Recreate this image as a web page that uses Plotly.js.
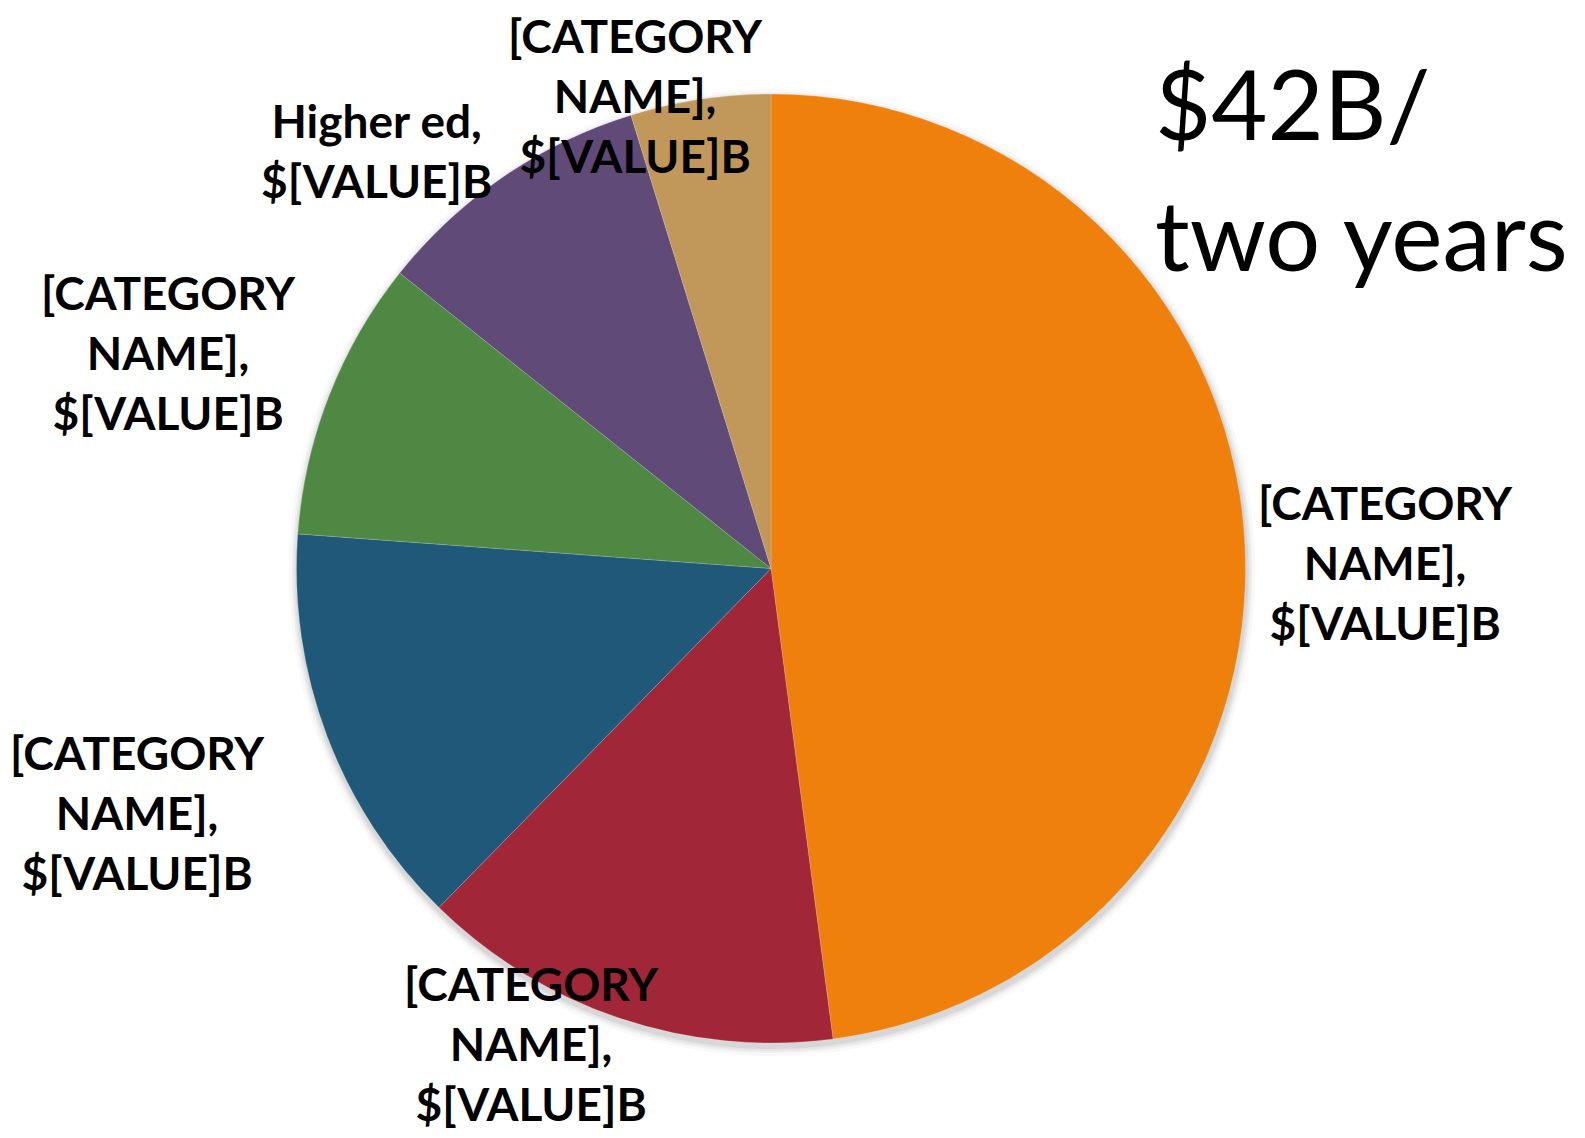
<!DOCTYPE html>
<html>
<head>
<meta charset="utf-8">
<script src="https://cdn.plot.ly/plotly-3.0.1.min.js"></script>
<style>
  html, body { margin: 0; padding: 0; background: #ffffff; }
  #chart { width: 1585px; height: 1138px; }
</style>
</head>
<body>
<div id="chart"></div>
<script>
// ---- data ----
const categories = ["[CATEGORY NAME]", "[CATEGORY NAME]", "[CATEGORY NAME]", "[CATEGORY NAME]", "Higher ed", "[CATEGORY NAME]"];
const values = [20.1, 6.05, 5.8, 4.0, 4.0, 2.0];
const labelTexts = [
  "[CATEGORY<br>NAME],<br>$[VALUE]B",
  "[CATEGORY<br>NAME],<br>$[VALUE]B",
  "[CATEGORY<br>NAME],<br>$[VALUE]B",
  "[CATEGORY<br>NAME],<br>$[VALUE]B",
  "Higher ed,<br>$[VALUE]B",
  "[CATEGORY<br>NAME],<br>$[VALUE]B"
];
const titleLines = ["$42B/", "two years"];

// ---- style ----
const colors = ["#EF800C", "#A02638", "#1F5878", "#4E8843", "#604A78", "#C1985A"];
const W = 1585, H = 1138;
const cx = 771, cy = 568.5, R = 474.5;
const labelPos = [[1385, 562], [531, 1043], [137, 812], [168, 352], [376, 150], [635, 95]];
const titlePos = [[1153, 103], [1153, 234]];

function domainFor(r, dx, dy) {
  return {
    x: [(cx + dx - r) / W, (cx + dx + r) / W],
    y: [(H - (cy + dy) - r) / H, (H - (cy + dy) + r) / H]
  };
}

const traces = [];
// soft shadow layers
const shadowLayers = [[R + 9, 0.025], [R + 6, 0.035], [R + 4, 0.045], [R + 2, 0.06]];
shadowLayers.forEach(([r, a]) => {
  traces.push({
    type: "pie", values: [1], labels: ["shadow"], sort: false,
    marker: { colors: ["rgba(0,0,0," + a + ")"], line: { width: 0 } },
    textinfo: "none", hoverinfo: "skip", showlegend: false,
    domain: domainFor(r, 1, 4)
  });
});

traces.push({
  type: "pie",
  labels: categories.map((c, i) => c + " " + i),
  values: values,
  sort: false,
  direction: "clockwise",
  rotation: 0,
  marker: { colors: colors, line: { color: "rgba(255,255,255,0.35)", width: 0.5 } },
  textinfo: "none",
  hoverinfo: "label+value",
  showlegend: false,
  domain: domainFor(R, 0, 0)
});

const annotations = labelTexts.map((t, i) => ({
  text: t,
  x: labelPos[i][0] / W,
  y: 1 - labelPos[i][1] / H,
  xref: "paper", yref: "paper",
  xanchor: "center", yanchor: "middle",
  showarrow: false,
  align: "center",
  font: { family: "Lato, 'Open Sans', sans-serif", size: 46, color: "#000000", weight: 700 }
}));

titleLines.forEach((t, i) => {
  annotations.push({
    text: t,
    x: titlePos[i][0] / W,
    y: 1 - titlePos[i][1] / H,
    xref: "paper", yref: "paper",
    xanchor: "left", yanchor: "middle",
    showarrow: false,
    align: "left",
    font: { family: "Lato, 'Open Sans', sans-serif", size: 97, color: "#000000" }
  });
});

const layout = {
  width: W, height: H,
  margin: { l: 0, r: 0, t: 0, b: 0 },
  paper_bgcolor: "#ffffff",
  showlegend: false,
  annotations: annotations
};

Plotly.newPlot("chart", traces, layout, { staticPlot: true });
</script>
</body>
</html>
